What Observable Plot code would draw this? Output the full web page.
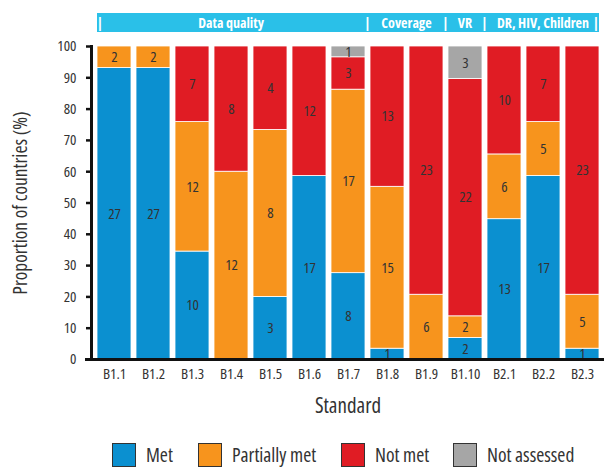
<!DOCTYPE html>
<html>
<head>
<meta charset="utf-8">
<script src="https://cdn.jsdelivr.net/npm/d3@7"></script>
<script src="https://cdn.jsdelivr.net/npm/@observablehq/plot@0.6"></script>
<style>
  html, body { margin: 0; padding: 0; background: #fff; }
  body { width: 614px; height: 467px; overflow: hidden; color: #333; }
  #wrap { position: relative; width: 614px; }
  #banner { position: absolute; top: 13px; height: 19px; background: #2ac0e8; }
  #banner span { position: absolute; top: 0; line-height: 19px; color: #fff; font-weight: bold; font-size: 14px; white-space: nowrap; }
  svg text { fill: #333; }
  svg [aria-label="y-axis tick label"] text, svg [aria-label="x-axis tick label"] text { font-size: 15px; }
  svg [aria-label="y-axis label"] text { font-size: 19.5px; }
  svg [aria-label="x-axis label"] text { font-size: 21px; }
  #legend { position: relative; height: 27px; font-size: 19.5px; color: #333; }
  #legend .item { position: absolute; top: 3px; height: 24px; display: flex; align-items: center; }
  #legend .item span { line-height: 20px; }
  #legend .sw { width: 24px; height: 24px; border: 1.5px solid #333; box-sizing: border-box; margin-right: 10px; }
</style>
</head>
<body>
<div id="wrap"></div>
<script>
const standards = ["B1.1","B1.2","B1.3","B1.4","B1.5","B1.6","B1.7","B1.8","B1.9","B1.10","B2.1","B2.2","B2.3"];
const met         = [27,27,10, 0, 3,17, 8, 1, 0, 2,13,17, 1];
const partial     = [ 2, 2,12,12, 8, 0,17,15, 6, 2, 6, 5, 5];
const notMet      = [ 0, 0, 7, 8, 4,12, 3,13,23,22,10, 7,23];
const notAssessed = [ 0, 0, 0, 0, 0, 0, 1, 0, 0, 3, 0, 0, 0];
const statuses = ["Met","Partially met","Not met","Not assessed"];
const statusColors = ["#0b90d0","#f7941d","#e01c24","#a6a6a6"];
const yTicks = [0,10,20,30,40,50,60,70,80,90,100];
const groupLabels = ["Data quality","Coverage","VR","DR, HIV, Children"];
const groupFirst  = ["B1.1","B1.8","B1.10","B2.1"];
const groupLast   = ["B1.7","B1.9","B1.10","B2.3"];

// pick a narrow installed sans face (the reference uses a condensed face), in order of preference
const cv = document.createElement("canvas").getContext("2d");
const probe = "Proportion of countries (%) Data quality";
function widthOf(fam, stretch) {
  cv.font = `40px ${fam}`;
  try { cv.fontStretch = stretch; } catch (e) {}
  const w = cv.measureText(probe).width;
  try { cv.fontStretch = "normal"; } catch (e) {}
  return w;
}
function installed(fam) {
  const w1 = widthOf(`"${fam}", monospace`, "normal"), w2 = widthOf(`"${fam}", serif`, "normal");
  return Math.abs(w1 - w2) < 0.5 && Math.abs(w1 - widthOf("monospace", "normal")) > 0.5;
}
function stretchable(fam) {
  return widthOf(`"${fam}"`, "semi-condensed") < widthOf(`"${fam}"`, "normal") - 2;
}
let chosen = ["Roboto", "normal"];
if (installed("Liberation Sans Narrow")) chosen = ["Liberation Sans Narrow", "normal"];
else if (installed("Arial Narrow")) chosen = ["Arial Narrow", "normal"];
else if (installed("Noto Sans") && stretchable("Noto Sans")) chosen = ["Noto Sans", "semi-condensed"];
else if (installed("Open Sans") && stretchable("Open Sans")) chosen = ["Open Sans", "semi-condensed"];
else if (installed("DejaVu Sans Condensed")) chosen = ["DejaVu Sans Condensed", "normal"];
const fontFamily = `"${chosen[0]}", Roboto, sans-serif`;
document.body.style.fontFamily = fontFamily;
document.body.style.fontStretch = chosen[1];

const series = [met, partial, notMet, notAssessed];
const rows = [];
standards.forEach((s, i) => {
  const total = series.reduce((a, arr) => a + arr[i], 0);
  statuses.forEach((st, k) => {
    rows.push({standard: s, status: st, count: series[k][i], pct: series[k][i] / total * 100});
  });
});

const plot = Plot.plot({
  width: 614,
  height: 440,
  marginTop: 46,
  marginBottom: 81,
  marginLeft: 91,
  marginRight: 10,
  style: {fontFamily: fontFamily, fontStretch: chosen[1]},
  x: {domain: standards, padding: 0.13, paddingOuter: 0.12, label: null},
  y: {domain: [0, 100], label: null},
  color: {domain: statuses, range: statusColors},
  marks: [
    Plot.barY(rows, Plot.stackY({x: "standard", y: "pct", fill: "status", order: statuses, stroke: "white", strokeWidth: 0.8})),
    Plot.text(rows, Plot.stackY({x: "standard", y: "pct", z: "status", order: statuses, text: "count", filter: d => d.count > 0, fontSize: 15, fill: "#333"})),
    Plot.axisY({ticks: yTicks, tickSize: 5, tickPadding: 10, strokeWidth: 2.5, stroke: "#111", label: "Proportion of countries (%)", labelAnchor: "center", labelOffset: 78, labelArrow: false}),
    Plot.axisX({tickSize: 0, tickPadding: 9, label: "Standard", labelAnchor: "center", labelOffset: 53, labelArrow: false}),
    Plot.frame({anchor: "left", stroke: "#111", strokeWidth: 3}),
    Plot.ruleY([0], {stroke: "#111", strokeWidth: 3, insetLeft: -6})
  ]
});

const wrap = document.getElementById("wrap");
wrap.appendChild(plot);

// banner over the bars, aligned with the x scale
const xs = plot.scale("x");
const bw = xs.bandwidth;
const stepW = xs.step;
const x0 = xs.apply(standards[0]);
const x1 = xs.apply(standards[standards.length - 1]) + bw;
const banner = document.createElement("div");
banner.id = "banner";
banner.style.left = x0 + "px";
banner.style.width = (x1 - x0) + "px";
wrap.appendChild(banner);
const addSpan = (txt, x) => {
  const sp = document.createElement("span");
  sp.textContent = txt;
  sp.style.left = (x - x0) + "px";
  sp.style.transform = "translateX(-50%)";
  banner.appendChild(sp);
};
groupLabels.forEach((g, i) => {
  const a = xs.apply(groupFirst[i]);
  const b = xs.apply(groupLast[i]) + bw;
  addSpan(g, (a + b) / 2);
  if (i > 0) addSpan("|", a - (stepW - bw) / 2);
});
addSpan("|", x0 + 3);
addSpan("|", x1 - 3);

// legend below
const legend = document.createElement("div");
legend.id = "legend";
const legendX = [112, 198, 341, 453];
statuses.forEach((st, k) => {
  const it = document.createElement("div");
  it.className = "item";
  it.style.left = legendX[k] + "px";
  const sw = document.createElement("div");
  sw.className = "sw";
  sw.style.background = statusColors[k];
  it.appendChild(sw);
  const t = document.createElement("span");
  t.textContent = st;
  it.appendChild(t);
  legend.appendChild(it);
});
document.body.appendChild(legend);
</script>
</body>
</html>
